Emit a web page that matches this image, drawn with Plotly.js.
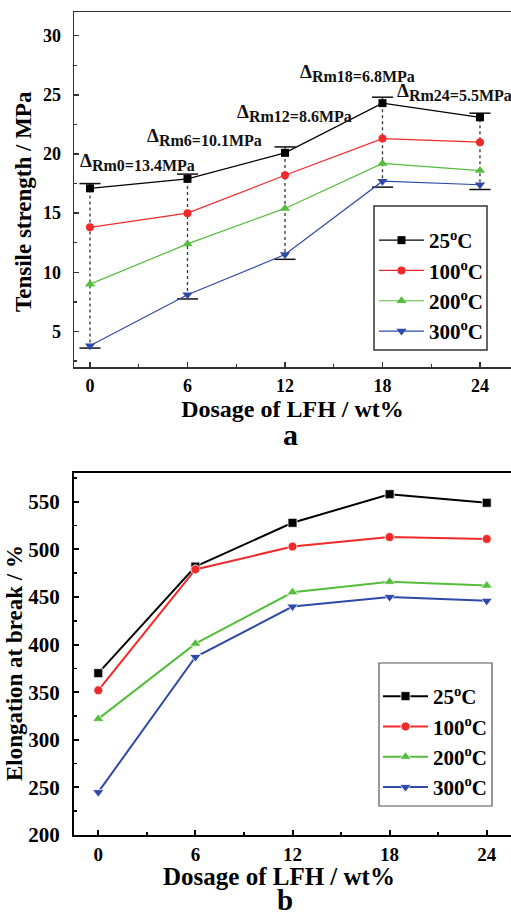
<!DOCTYPE html>
<html>
<head>
<meta charset="utf-8">
<script src="https://cdn.plot.ly/plotly-3.0.1.min.js"></script>
<style>html,body{margin:0;padding:0;background:#fff;}</style>
</head>
<body>
<div id="chart" style="width:511px;height:918px;"></div>
<script>
// ---- data ----
const dosage = [0, 6, 12, 18, 24];
const seriesNames = ["25<sup>o</sup>C", "100<sup>o</sup>C", "200<sup>o</sup>C", "300<sup>o</sup>C"];
// (a) tensile strength, MPa
const tensile25 = [17.1, 17.9, 20.1, 24.3, 23.1];
const tensile100 = [13.8, 15.0, 18.2, 21.3, 21.0];
const tensile200 = [9.0, 12.4, 15.4, 19.2, 18.6];
const tensile300 = [3.8, 8.1, 11.5, 17.7, 17.4];
const rangeTop = [17.5, 18.3, 20.6, 24.8, 23.45];
const rangeBottom = [3.6, 7.75, 11.1, 17.2, 17.0];
const deltaLabels = ["Rm0=13.4MPa", "Rm6=10.1MPa", "Rm12=8.6MPa", "Rm18=6.8MPa", "Rm24=5.5MPa"];
const deltaX = [-0.75, 3.38, 8.9, 12.8, 18.77];
const deltaY = [19.35, 21.4, 23.5, 26.85, 25.2];
// (b) elongation at break, %
const elong25 = [370, 482, 528, 558, 549];
const elong100 = [352, 479, 503, 513, 511];
const elong200 = [322, 401, 455, 466, 462];
const elong300 = [245, 387, 440, 450, 446];

// ---- styles ----
const colors = ["#000000", "#f02a2a", "#55bd3c", "#2e4aa6"];
const symbols = ["square", "circle", "triangle-up", "triangle-down"];
const serif = "Liberation Serif";

const traces = [];
// dotted connectors (a)
const dx = [], dy = [];
dosage.forEach((x, i) => { dx.push(x, x, null); dy.push(rangeTop[i], rangeBottom[i], null); });
traces.push({x: dx, y: dy, mode: "lines", xaxis: "x", yaxis: "y", showlegend: false, hoverinfo: "skip",
  line: {color: "#333", width: 1.3, dash: "dot"}});
// caps (a)
const capHalf = 0.65;
const cx = [], cy = [];
dosage.forEach((x, i) => {
  cx.push(x - capHalf, x + capHalf, null, x - capHalf, x + capHalf, null);
  cy.push(rangeTop[i], rangeTop[i], null, rangeBottom[i], rangeBottom[i], null);
});
traces.push({x: cx, y: cy, mode: "lines", xaxis: "x", yaxis: "y", showlegend: false, hoverinfo: "skip",
  line: {color: "#111", width: 1.5}});

const tensile = [tensile25, tensile100, tensile200, tensile300];
tensile.forEach((vals, k) => {
  traces.push({x: dosage, y: vals, name: seriesNames[k], mode: "lines+markers", xaxis: "x", yaxis: "y",
    legend: "legend", line: {color: colors[k], width: 1.2},
    marker: {color: colors[k], symbol: symbols[k], size: k >= 2 ? 9 : 8}});
});
const elong = [elong25, elong100, elong200, elong300];
elong.forEach((vals, k) => {
  traces.push({x: dosage, y: vals, name: seriesNames[k], mode: "lines+markers", xaxis: "x2", yaxis: "y2",
    legend: "legend2", line: {color: colors[k], width: 2},
    marker: {color: colors[k], symbol: symbols[k], size: k >= 2 ? 10 : 9, line: {color: "#fff", width: 0.8}}});
});

const annotations = deltaLabels.map((t, i) => ({
  x: deltaX[i], y: deltaY[i], xref: "x", yref: "y", xanchor: "left", yanchor: "middle",
  text: "Δ<sub><span style='font-size:16px'>" + t + "</span></sub>", showarrow: false,
  font: {family: serif, size: 19, weight: "bold", color: "#111"}
}));
const titleFont = (s) => ({family: serif, size: s, weight: "bold", color: "#000"});
// axis titles placed as paper annotations
annotations.push({x: 24 / 511, y: 1 - 202 / 918, xref: "paper", yref: "paper", xanchor: "center", yanchor: "middle",
  textangle: -90, text: "Tensile strength / MPa", showarrow: false, font: titleFont(23)});
annotations.push({x: 14 / 511, y: 1 - 663 / 918, xref: "paper", yref: "paper", xanchor: "center", yanchor: "middle",
  textangle: -90, text: "Elongation at break / %", showarrow: false, font: titleFont(23)});
annotations.push({x: 279 / 511, y: 1 - 876 / 918, xref: "paper", yref: "paper", xanchor: "center", yanchor: "middle",
  text: "Dosage of LFH / wt%", showarrow: false, font: titleFont(25)});
annotations.push({x: 290 / 511, y: 1 - 434 / 918, xref: "paper", yref: "paper", xanchor: "center", yanchor: "middle",
  text: "a", showarrow: false, font: {family: serif, size: 30, weight: "bold", color: "#000"}});
annotations.push({x: 285 / 511, y: 0, xref: "paper", yref: "paper", xanchor: "center", yanchor: "bottom",
  text: "b", showarrow: false, font: {family: serif, size: 29, weight: "bold", color: "#000"}});

const tickFont = (s) => ({family: serif, size: s, weight: "bold", color: "#000"});

const layout = {
  width: 511, height: 918,
  margin: {l: 0, r: 0, t: 0, b: 0},
  paper_bgcolor: "#fff", plot_bgcolor: "#fff",
  showlegend: true,
  annotations: annotations,
  xaxis: {domain: [74 / 511, 1], anchor: "y", range: [-0.985, 25.91], tickvals: dosage,
    ticks: "inside", ticklen: 5, tickwidth: 1.5, tickcolor: "#333",
    showline: true, linecolor: "#333", linewidth: 1.5, mirror: true, showgrid: false, zeroline: false,
    minor: {tick0: 0, dtick: 3, ticks: "inside", ticklen: 3, tickwidth: 1.2, tickcolor: "#333", showgrid: false},
    tickfont: tickFont(18), ticklabelstandoff: 2,
    title: {text: "Dosage of LFH / wt%", font: titleFont(24), standoff: 5}},
  yaxis: {domain: [1 - 367 / 918, 1 - 12 / 918], anchor: "x", range: [2, 32], tickvals: [5, 10, 15, 20, 25, 30],
    ticks: "inside", ticklen: 5, tickwidth: 1.5, tickcolor: "#333",
    showline: true, linecolor: "#333", linewidth: 1.5, mirror: false, showgrid: false, zeroline: false,
    minor: {tick0: 0, dtick: 2.5, ticks: "inside", ticklen: 3, tickwidth: 1.2, tickcolor: "#333", showgrid: false},
    tickfont: tickFont(18), ticklabelstandoff: 8},
  xaxis2: {domain: [74 / 511, 1], anchor: "y2", range: [-1.5, 25.5], tickvals: dosage,
    ticks: "inside", ticklen: 5, tickwidth: 2, tickcolor: "#000",
    showline: true, linecolor: "#000", linewidth: 2, mirror: true, showgrid: false, zeroline: false,
    minor: {tick0: 0, dtick: 3, ticks: "inside", ticklen: 3, tickwidth: 1.5, tickcolor: "#000", showgrid: false},
    tickfont: tickFont(19), ticklabelstandoff: 1},
  yaxis2: {domain: [1 - 835 / 918, 1 - 473.3 / 918], anchor: "x2", range: [200, 580],
    tickvals: [200, 250, 300, 350, 400, 450, 500, 550],
    ticks: "inside", ticklen: 5, tickwidth: 2, tickcolor: "#000",
    showline: true, linecolor: "#000", linewidth: 2, mirror: false, showgrid: false, zeroline: false,
    minor: {tick0: 0, dtick: 25, ticks: "inside", ticklen: 3, tickwidth: 1.5, tickcolor: "#000", showgrid: false},
    tickfont: tickFont(21), ticklabelstandoff: 8},
  legend: {x: 374 / 511, y: 1 - 220 / 918, xanchor: "left", yanchor: "top", bgcolor: "rgba(0,0,0,0)",
    borderwidth: 0, font: {family: serif, size: 21, weight: "bold", color: "#000"}, itemwidth: 45, tracegroupgap: 0},
  legend2: {x: 378 / 511, y: 1 - 676 / 918, xanchor: "left", yanchor: "top", bgcolor: "rgba(0,0,0,0)",
    borderwidth: 0, font: {family: serif, size: 21, weight: "bold", color: "#000"}, itemwidth: 45, tracegroupgap: 0},
  shapes: [
    {type: "rect", xref: "paper", yref: "paper", x0: 374 / 511, x1: 487 / 511, y0: 1 - 350 / 918, y1: 1 - 206 / 918,
      line: {color: "#333", width: 1.5}, fillcolor: "rgba(0,0,0,0)"},
    {type: "rect", xref: "paper", yref: "paper", x0: 379 / 511, x1: 492 / 511, y0: 1 - 806 / 918, y1: 1 - 663 / 918,
      line: {color: "#555", width: 1.2}, fillcolor: "rgba(0,0,0,0)"}
  ]
};

Plotly.newPlot("chart", traces, layout, {staticPlot: true, displayModeBar: false});
</script>
</body>
</html>
